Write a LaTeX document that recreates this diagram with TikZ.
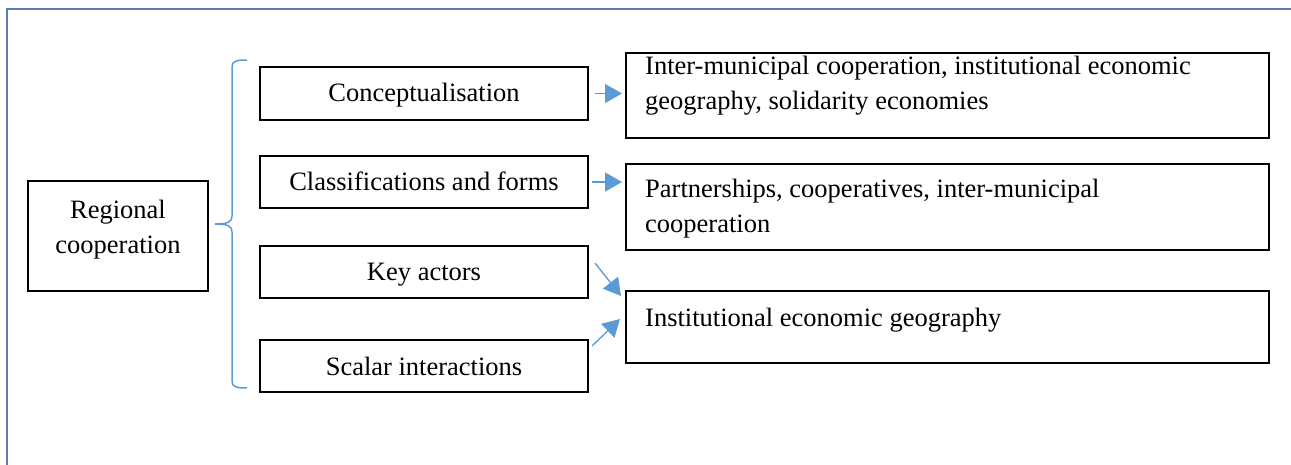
\documentclass[tikz,border=0pt]{standalone}
\usepackage{fontspec}
\setmainfont{Liberation Serif}
\usetikzlibrary{arrows.meta}
\definecolor{frameblue}{HTML}{5A7FAF}
\definecolor{lightblue}{HTML}{5B9BD5}
\tikzset{
  box/.style={draw=black, line width=2pt, rectangle, inner sep=0pt, anchor=north west},
  txt/.style={inner sep=0pt, font=\fontsize{26.5}{35}\selectfont},
  arr/.style={draw=lightblue, line width=1.3pt, -{Triangle[length=17pt,width=19pt]}},
  bracepath/.style={draw=lightblue, line width=1.5pt},
}
\begin{document}
\begin{tikzpicture}[x=1pt,y=-1pt]
\useasboundingbox (0,0) rectangle (1291,464);
% frame
\draw[frameblue, line width=2.5pt] (7,470) -- (7,9) -- (1295,9);
% left box
\node[box, minimum width=180, minimum height=110] (rc) at (27,180) {};
\node[txt, align=center] (rct) at ([yshift=6]rc.center) {Regional\\cooperation};
% middle boxes
\node[box, minimum width=328, minimum height=53] (c1) at (259,66) {};
\node[txt, anchor=base] (c1t) at ([yshift=-8]c1.center) {Conceptualisation};
\node[box, minimum width=328, minimum height=52] (c2) at (259,155) {};
\node[txt, anchor=base] (c2t) at ([yshift=-8]c2.center) {Classifications and forms};
\node[box, minimum width=328, minimum height=52] (c3) at (259,245) {};
\node[txt, anchor=base] (c3t) at ([yshift=-8]c3.center) {Key actors};
\node[box, minimum width=328, minimum height=52] (c4) at (259,339) {};
\node[txt, anchor=base] (c4t) at ([yshift=-9]c4.center) {Scalar interactions};
% right boxes
\node[box, minimum width=643, minimum height=85] (r1) at (625,52) {};
\node[txt, anchor=north west, align=left] (r1t) at (645,56) {Inter-municipal cooperation, institutional economic\\geography, solidarity economies};
\node[box, minimum width=643, minimum height=86] (r2) at (625,163) {};
\node[txt, anchor=north west, align=left] (r2t) at (645,178.5) {Partnerships, cooperatives, inter-municipal\\cooperation};
\node[box, minimum width=643, minimum height=72] (r3) at (625,290) {};
\node[txt, anchor=north west, align=left] (r3t) at (645,308) {Institutional economic geography};
% brace
\draw[bracepath] (247,60) .. controls (236,60) and (232,61) .. (232,67) -- (232,216)
  .. controls (232,222) and (228,224) .. (215,224)
  .. controls (228,224) and (232,226) .. (232,232) -- (232,381)
  .. controls (232,387) and (236,388) .. (247,388);
% arrows
\draw[arr] ([xshift=6]c1.east) -- ([xshift=-3]r1.west |- c1.east);
\draw[arr] ([xshift=3]c2.east) -- ([xshift=-3]r2.west |- c2.east);
\draw[arr] ([xshift=6,yshift=9]c3.east) -- ([xshift=-4,yshift=-6]r3.north west);
\draw[arr] ([xshift=3,yshift=-7]c4.north east) -- ([xshift=-5,yshift=8]r3.west);
\end{tikzpicture}
\end{document}
